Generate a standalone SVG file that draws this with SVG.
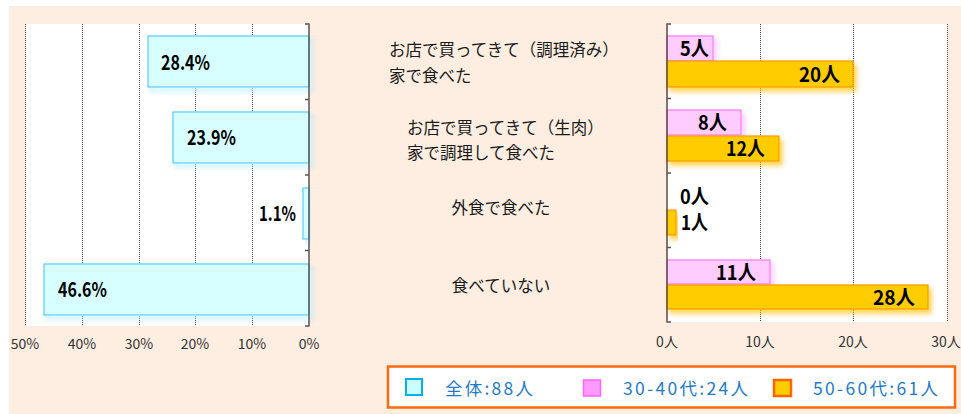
<svg xmlns="http://www.w3.org/2000/svg" width="961" height="414" viewBox="0 0 961 414">
<style>
.grid{stroke:#444;stroke-width:1;stroke-dasharray:1 1;fill:none}
.axis{stroke:#555;stroke-width:1.5;fill:none}
.cy{fill:#D8FFFF;stroke:#5CCBF5;stroke-width:1.2}
.pk{fill:#FFCCFF;stroke:#FF77FF;stroke-width:1.2}
.or{fill:#FFCC00;stroke:#FF9900;stroke-width:1.2}
.val{font-family:"Noto Sans CJK JP","Liberation Sans",sans-serif;font-size:20px;font-weight:bold;fill:#000}
.cat{font-family:"Noto Sans CJK JP",sans-serif;font-size:16.5px;fill:#1a1a1a}
.tick{font-family:"Noto Sans CJK JP","Liberation Sans",sans-serif;font-size:14px;fill:#333;text-anchor:middle}
.leg{font-family:"Noto Sans CJK JP",sans-serif;font-size:17.5px;fill:#1F7BC8}
</style>
<defs>
<filter id="sh" x="-10%" y="-30%" width="130%" height="180%">
<feGaussianBlur in="SourceGraphic" stdDeviation="2.5" result="b"/>
<feOffset in="b" dx="3" dy="4" result="o"/>
<feComponentTransfer in="o" result="o2"><feFuncA type="linear" slope="0.7"/></feComponentTransfer>
<feMerge><feMergeNode in="o2"/><feMergeNode in="SourceGraphic"/></feMerge>
</filter>
</defs>
<rect x="0" y="0" width="961" height="414" fill="#fff"/>
<rect x="9" y="6" width="952" height="408" fill="#FDEEE1"/>
<g id="left-plot">
<rect x="25" y="24" width="284" height="302" fill="#fff"/>
<g id="left-grid">
<line class="grid" x1="25.5" y1="24" x2="25.5" y2="326"/>
<line class="grid" x1="82.5" y1="24" x2="82.5" y2="326"/>
<line class="grid" x1="139.5" y1="24" x2="139.5" y2="326"/>
<line class="grid" x1="195.5" y1="24" x2="195.5" y2="326"/>
<line class="grid" x1="252.5" y1="24" x2="252.5" y2="326"/>
</g>
<g id="bar-all-1"><rect class="cy" x="148" y="36" width="161" height="51" filter="url(#sh)"/><text class="val" x="161" y="70" textLength="49" lengthAdjust="spacingAndGlyphs">28.4%</text></g>
<g id="bar-all-2"><rect class="cy" x="173" y="112" width="136" height="51" filter="url(#sh)"/><text class="val" x="187" y="145" textLength="49" lengthAdjust="spacingAndGlyphs">23.9%</text></g>
<g id="bar-all-3"><rect class="cy" x="303" y="188" width="6" height="51" filter="url(#sh)"/><text class="val" x="259" y="221" textLength="37" lengthAdjust="spacingAndGlyphs">1.1%</text></g>
<g id="bar-all-4"><rect class="cy" x="44" y="264" width="265" height="51" filter="url(#sh)"/><text class="val" x="58" y="297" textLength="49" lengthAdjust="spacingAndGlyphs">46.6%</text></g>
<g id="left-axis">
<line class="axis" x1="309" y1="23.5" x2="309" y2="326.5"/>
<path class="axis" d="M305 24H309M305 99.5H309M305 175H309M305 250.5H309M305 326H309"/>
</g>
<g id="left-ticks">
<text class="tick" x="25" y="349">50%</text>
<text class="tick" x="82" y="349">40%</text>
<text class="tick" x="139" y="349">30%</text>
<text class="tick" x="195" y="349">20%</text>
<text class="tick" x="252" y="349">10%</text>
<text class="tick" x="309" y="349">0%</text>
</g>
</g>
<g id="categories">
<g id="cat-1"><text class="cat" x="389" y="56">お店で買ってきて（調理済み）</text><text class="cat" x="389" y="82">家で食べた</text></g>
<g id="cat-2"><text class="cat" x="407" y="134">お店で買ってきて（生肉）</text><text class="cat" x="407" y="159">家で調理して食べた</text></g>
<g id="cat-3"><text class="cat" x="501" y="214" text-anchor="middle">外食で食べた</text></g>
<g id="cat-4"><text class="cat" x="501" y="292" text-anchor="middle">食べていない</text></g>
</g>
<g id="right-plot">
<rect x="667" y="24" width="280" height="298" fill="#fff"/>
<g id="right-grid">
<line class="grid" x1="760.5" y1="24" x2="760.5" y2="322"/>
<line class="grid" x1="853.5" y1="24" x2="853.5" y2="322"/>
<line class="grid" x1="947.5" y1="24" x2="947.5" y2="322"/>
</g>
<g id="bar-3040-1"><rect class="pk" x="667" y="36" width="46" height="25" filter="url(#sh)"/><text class="val" x="680" y="56" textLength="29" lengthAdjust="spacingAndGlyphs">5人</text></g>
<g id="bar-5060-1"><rect class="or" x="667" y="61" width="186" height="26" filter="url(#sh)"/><text class="val" x="840" y="81.5" text-anchor="end" textLength="41" lengthAdjust="spacingAndGlyphs">20人</text></g>
<g id="bar-3040-2"><rect class="pk" x="667" y="110" width="74" height="25" filter="url(#sh)"/><text class="val" x="727" y="130" text-anchor="end" textLength="29" lengthAdjust="spacingAndGlyphs">8人</text></g>
<g id="bar-5060-2"><rect class="or" x="667" y="136" width="112" height="25" filter="url(#sh)"/><text class="val" x="765" y="155.5" text-anchor="end" textLength="39" lengthAdjust="spacingAndGlyphs">12人</text></g>
<g id="bar-3040-3"><text class="val" x="680" y="204" textLength="29" lengthAdjust="spacingAndGlyphs" font-size="18">0人</text></g>
<g id="bar-5060-3"><rect class="or" x="667" y="210" width="9" height="25" filter="url(#sh)"/><text class="val" x="681" y="230" textLength="27" lengthAdjust="spacingAndGlyphs" font-size="18">1人</text></g>
<g id="bar-3040-4"><rect class="pk" x="667" y="260" width="103" height="24" filter="url(#sh)"/><text class="val" x="756" y="279.5" text-anchor="end" textLength="40" lengthAdjust="spacingAndGlyphs">11人</text></g>
<g id="bar-5060-4"><rect class="or" x="667" y="285" width="261" height="24" filter="url(#sh)"/><text class="val" x="915" y="304.5" text-anchor="end" textLength="42" lengthAdjust="spacingAndGlyphs">28人</text></g>
<g id="right-axis">
<line x1="667" y1="23.5" x2="667" y2="322.5" stroke="#5A4A40" stroke-width="1.5"/>
<path class="axis" d="M667 24H671M667 98.5H671M667 173H671M667 247.5H671M667 322H671"/>
</g>
<g id="right-ticks">
<text class="tick" x="667" y="347">0人</text>
<text class="tick" x="760" y="347">10人</text>
<text class="tick" x="853" y="347">20人</text>
<text class="tick" x="946" y="347">30人</text>
</g>
</g>
<g id="legend">
<rect x="388" y="366.5" width="567" height="41" fill="#fff" stroke="#FF6A10" stroke-width="2.5"/>
<g id="leg-all"><rect x="406" y="379" width="16" height="16" fill="#CCFFFF" stroke="#00B0F0" stroke-width="2"/><text class="leg" x="445" y="394.5" textLength="88">全体:88人</text></g>
<g id="leg-3040"><rect x="583.5" y="380" width="17" height="16" fill="#FF99FF" stroke="#FF66FF" stroke-width="1.5"/><text class="leg" x="623" y="394.5" textLength="125">30-40代:24人</text></g>
<g id="leg-5060"><rect x="774" y="380" width="17" height="16" fill="#FFCC00" stroke="#FF6600" stroke-width="2.5"/><text class="leg" x="813" y="394.5" textLength="125">50-60代:61人</text></g>
</g>
</svg>
